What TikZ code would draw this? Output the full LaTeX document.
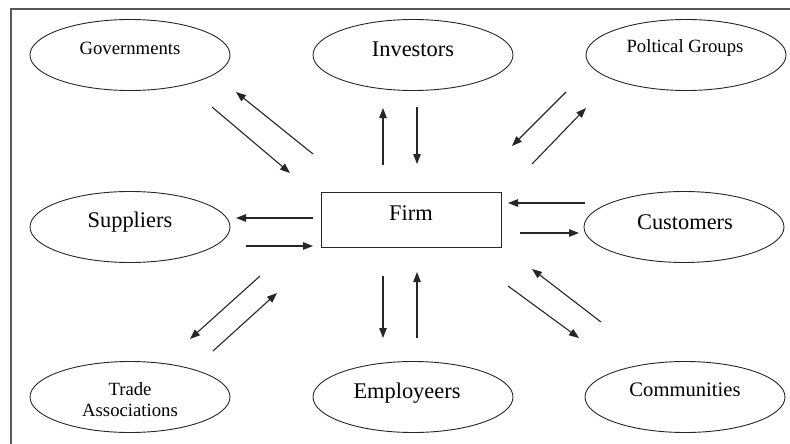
\documentclass[tikz,border=0pt]{standalone}
\usepackage{fontspec}
\setmainfont{Liberation Serif}
\newfontfamily\tnr{Liberation Serif}
\usetikzlibrary{arrows.meta,shapes.geometric}
\begin{document}
\begin{tikzpicture}[x=1pt,y=-1pt,
  party/.style={draw=black!85,line width=0.9pt,ellipse,minimum width=200pt,minimum height=71pt,inner sep=0pt},
  big/.style={font=\tnr\fontsize{22.4}{24}\selectfont},
  small/.style={font=\tnr\fontsize{18.7}{21}\selectfont},
  flow/.style={line width=1.1pt,draw=black!85,-{Triangle[length=10pt,width=7.5pt]}}]
\useasboundingbox (0,0) rectangle (790,444);
\draw[line width=2pt,draw=black!65] (790,9) -- (11,9) -- (11,444);
% ellipses
\node[party] (gov) at (130,55) {};
\node[party] (inv) at (413,55) {};
\node[party] (pol) at (686,55) {};
\node[party] (sup) at (130,227) {};
\node[party] (cus) at (684,227) {};
\node[party] (tra) at (130,397) {};
\node[party] (emp) at (413,397) {};
\node[party] (com) at (685,397) {};
\node[draw=black!85,line width=0.9pt,minimum width=180pt,minimum height=55pt,inner sep=0pt] (firm) at (411,219.5) {};
% texts
\node[small] (tgov) at (130,48) {Governments};
\node[big] (tinv) at (413,49) {Investors};
\node[small] (tpol) at (685,48) {Poltical Groups};
\node[big] (tsup) at (130,222) {Suppliers};
\node[big] (tcus) at (685,222) {Customers};
\node[small,align=center] (ttra) at (130,400) {Trade\\Associations};
\node[big] (temp) at (407,393) {Employeers};
\node[font=\tnr\fontsize{20.6}{22}\selectfont] (tcom) at (685,390) {Communities};
\node[big] (tfirm) at (411,213) {Firm};
% arrow endpoints
\coordinate (g1a) at (212,107); \coordinate (g1b) at (290,173);
\coordinate (g2a) at (313,154); \coordinate (g2b) at (236,92);
\coordinate (i1a) at (383,165); \coordinate (i1b) at (383,108);
\coordinate (i2a) at (417,107); \coordinate (i2b) at (417,164);
\coordinate (p1a) at (566,92); \coordinate (p1b) at (512,146);
\coordinate (p2a) at (532,164); \coordinate (p2b) at (586,108);
\coordinate (s1a) at (313,218); \coordinate (s1b) at (236,218);
\coordinate (s2a) at (246,246); \coordinate (s2b) at (313,246);
\coordinate (c1a) at (585,203); \coordinate (c1b) at (508,203);
\coordinate (c2a) at (520,233); \coordinate (c2b) at (579,233);
\coordinate (t1a) at (260,276); \coordinate (t1b) at (190,339);
\coordinate (t2a) at (213,351); \coordinate (t2b) at (277,293);
\coordinate (e1a) at (383,276); \coordinate (e1b) at (383,338);
\coordinate (e2a) at (417,338); \coordinate (e2b) at (417,272);
\coordinate (m1a) at (508,286); \coordinate (m1b) at (579,338);
\coordinate (m2a) at (601,322); \coordinate (m2b) at (532,269);
\foreach \a in {g1,g2,i1,i2,p1,p2,s1,s2,c1,c2,t1,t2,e1,e2,m1,m2}
  \draw[flow] (\a a) -- (\a b);
\end{tikzpicture}
\end{document}
